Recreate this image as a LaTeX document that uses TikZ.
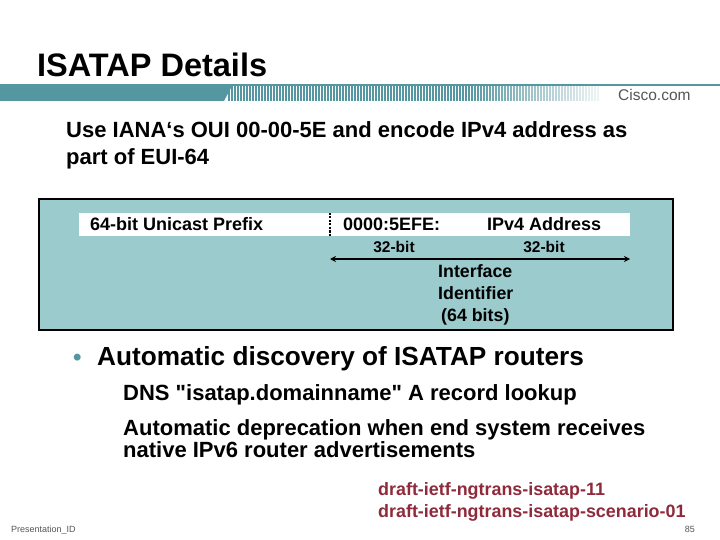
\documentclass[tikz,border=0pt]{standalone}
\usepackage{fontspec}
\usetikzlibrary{arrows.meta}
\setmainfont{Liberation Sans}
\newfontfamily\plainq{Liberation Sans}
\definecolor{bandc}{HTML}{5497A0}
\definecolor{panelc}{HTML}{9BCBCD}
\definecolor{redc}{HTML}{8E2A3C}
\definecolor{greyc}{HTML}{555555}
\tikzset{
 txt/.style={inner sep=0pt,anchor=base west,align=left},
 ctr/.style={inner sep=0pt,anchor=base},
}
\begin{document}
\begin{tikzpicture}[x=1pt,y=-1pt]
\useasboundingbox (0,0) rectangle (720,540);
\fill[white] (0,0) rectangle (720,540);
% band
\fill[bandc] (0,84) rectangle (720,86);
\fill[bandc] (0,86) -- (232,86) -- (224,101) -- (0,101) -- cycle;
\foreach \x in {0,...,123}{
  \pgfmathsetmacro{\op}{\x<80?1:max(0,1-(\x-80)/48)}
  \fill[bandc,opacity=\op] ({228+3*\x},86) rectangle ({229.6+3*\x},101);
}
\node[txt,font=\fontsize{15.5}{15.5}\selectfont,text=greyc] (brand) at (618,101) {Cisco.com};
\node[txt,font=\fontsize{32.5}{32.5}\selectfont\bfseries] (title) at (37,76.5) {ISATAP Details};
\node[txt,font=\fontsize{22}{22}\selectfont\bfseries] (l1) at (66,138) {Use IANA‘s OUI 00-00-5E and encode IPv4 address as};
\node[txt,font=\fontsize{22}{22}\selectfont\bfseries] (l2) at (66,165) {part of EUI-64};
% panel
\node[draw=black,line width=2pt,fill=panelc,minimum width=634pt,minimum height=131pt,inner sep=0pt,anchor=north west] (panel) at (38,198) {};
\node[fill=white,minimum width=551pt,minimum height=23pt,inner sep=0pt,anchor=north west] (bar) at (79,213) {};
\coordinate (da) at (330,213);
\coordinate (db) at (330,236);
\draw[line width=1.2pt,dash pattern=on 2pt off 1.5pt] (da) -- (db);
\node[txt,font=\fontsize{18}{18}\selectfont\bfseries] (prefix) at (90,230) {64-bit Unicast Prefix};
\node[txt,font=\fontsize{18}{18}\selectfont\bfseries] (efe) at (343,230) {0000:5EFE:};
\node[txt,font=\fontsize{18}{18}\selectfont\bfseries] (ipv4) at (487,230) {IPv4 Address};
\node[ctr,font=\fontsize{15.5}{15.5}\selectfont\bfseries] (b1) at (394,252) {32-bit};
\node[ctr,font=\fontsize{15.5}{15.5}\selectfont\bfseries] (b2) at (544,252) {32-bit};
\coordinate (al) at (330,259);
\coordinate (ar) at (630,259);
\draw[line width=1.2pt,{Stealth[length=6pt,width=6pt]}-{Stealth[length=6pt,width=6pt]}] (al) -- (ar);
\node[txt,font=\fontsize{17.8}{17.8}\selectfont\bfseries] (i1) at (438,277) {Interface};
\node[txt,font=\fontsize{17.8}{17.8}\selectfont\bfseries] (i2) at (438,299) {Identifier};
\node[txt,font=\fontsize{17.8}{17.8}\selectfont\bfseries] (i3) at (441,321) {(64 bits)};
% bullets
\node[txt,font=\fontsize{26.2}{26.2}\selectfont\bfseries] (h) at (97,365) {Automatic discovery of ISATAP routers};
\node[txt,font=\fontsize{24}{24}\selectfont\bfseries,text=bandc] (bul) at (73,365) {•};
\node[txt,font=\fontsize{22}{22}\plainq\bfseries] (d1) at (123,400) {DNS "isatap.domainname" A record lookup};
\node[txt,font=\fontsize{22}{22}\selectfont\bfseries] (d2) at (123,435) {Automatic deprecation when end system receives};
\node[txt,font=\fontsize{22}{22}\selectfont\bfseries] (d3) at (123,457) {native IPv6 router advertisements};
\node[txt,font=\fontsize{17.9}{17.9}\selectfont\bfseries,text=redc] (r1) at (378,495) {draft-ietf-ngtrans-isatap-11};
\node[txt,font=\fontsize{17.9}{17.9}\selectfont\bfseries,text=redc] (r2) at (378,517) {draft-ietf-ngtrans-isatap-scenario-01};
\node[txt,font=\fontsize{9}{9}\selectfont,text=greyc] (pid) at (11,532) {Presentation\_ID};
\node[inner sep=0pt,anchor=base east,font=\fontsize{9}{9}\selectfont,text=greyc] (pg) at (695,532) {85};
\end{tikzpicture}
\end{document}
